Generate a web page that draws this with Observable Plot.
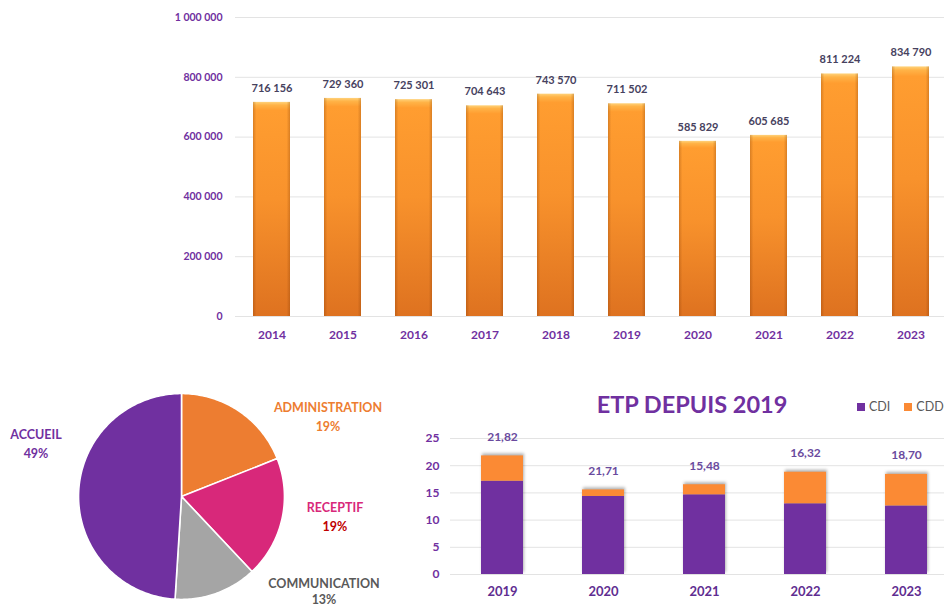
<!DOCTYPE html>
<html><head><meta charset="utf-8">
<script src="https://cdn.jsdelivr.net/npm/d3@7"></script>
<script src="https://cdn.jsdelivr.net/npm/@observablehq/plot@0.6"></script>
<style>
html,body{margin:0;padding:0;background:#fff;overflow:hidden}
#root{position:relative;width:944px;height:607px;font-family:Lato,"Open Sans",sans-serif}
.lbl{position:absolute;transform:translateX(-50%);text-align:center;font-weight:700;font-size:12.5px;line-height:19px;white-space:nowrap}
svg{overflow:visible}
</style></head><body><div id="root"></div>
<script>
// ---------- data ----------
const years = ["2014", "2015", "2016", "2017", "2018", "2019", "2020", "2021", "2022", "2023"];
const visitors = [716156, 729360, 725301, 704643, 743570, 711502, 585829, 605685, 811224, 834790];
const topTicks = [0, 200000, 400000, 600000, 800000, 1000000];

const pieNames = ["ADMINISTRATION", "RECEPTIF", "COMMUNICATION", "ACCUEIL"];
const pieShares = [19, 19, 13, 49];
const pieColors = ["#ed7d31", "#d8287a", "#a5a5a5", "#7030a0"];
const pieNameColors = ["#ed7d31", "#d8287a", "#595959", "#7030a0"];
const piePctColors = ["#ed7d31", "#c00000", "#595959", "#7030a0"];

const etpYears = ["2019", "2020", "2021", "2022", "2023"];
const cdi = [17.15, 14.35, 14.65, 13.0, 12.6];
const cdd = [4.65, 1.2, 1.85, 5.8, 5.8];
const etpLabels = ["21,82", "21,71", "15,48", "16,32", "18,70"];
const etpTicks = [0, 5, 10, 15, 20, 25];
const etpTypes = ["CDI", "CDD"];
const etpColors = ["#7030a0", "#fb8a34"];

// ---------- helpers ----------
const root = document.getElementById("root");
const fmt = d3.formatLocale({decimal: ",", thousands: " ", grouping: [3], currency: ["", "€"]}).format(",d");
function place(node, left, top) {
  node.style.position = "absolute"; node.style.left = left + "px"; node.style.top = top + "px";
  root.appendChild(node);
}
const FONT = "Lato, 'Open Sans', sans-serif";

// ---------- top chart ----------
const topData = years.map((y, i) => ({year: y, value: visitors[i]}));
const topDefs = () => {
  const s = d3.create("svg:defs");
  const g = s.append("linearGradient").attr("id", "gTop").attr("x1", 0).attr("y1", 0).attr("x2", 0).attr("y2", 1);
  [["0%", "#ffd27a"], ["1.5%", "#ffb347"], ["4%", "#ff9d30"], ["45%", "#f8922c"], ["100%", "#de7220"]]
    .forEach(([o, c]) => g.append("stop").attr("offset", o).attr("stop-color", c));
  const h = s.append("linearGradient").attr("id", "gTopH").attr("x1", 0).attr("y1", 0).attr("x2", 1).attr("y2", 0);
  [["0%", "rgba(120,50,0,0.28)"], ["9%", "rgba(120,50,0,0)"], ["91%", "rgba(120,50,0,0)"], ["100%", "rgba(120,50,0,0.28)"]]
    .forEach(([o, c]) => h.append("stop").attr("offset", o).attr("stop-color", c));
  return s.node();
};
const topChart = Plot.plot({
  width: 944, height: 345, marginTop: 17, marginBottom: 29, marginLeft: 235, marginRight: 0,
  style: {fontFamily: FONT, background: "transparent", overflow: "visible"},
  x: {type: "band", domain: years, range: [234.5, 946.5], paddingInner: 0.48, paddingOuter: 0.24, label: null},
  y: {domain: [0, 1000000], label: null},
  marks: [
    topDefs,
    Plot.ruleY(topTicks, {stroke: "#e3e3e3", strokeWidth: 1}),
    Plot.barY(topData, {x: "year", y: "value", fill: "url(#gTop)"}),
    Plot.barY(topData, {x: "year", y: "value", fill: "url(#gTopH)"}),
    Plot.text(topData, {x: "year", y: "value", text: d => fmt(d.value), dy: -14, fill: "#46415e", fontWeight: "bold", fontSize: 11}),
    Plot.axisY({ticks: topTicks, tickFormat: fmt, tickSize: 0, tickPadding: 13, fill: "#7030a0", fontWeight: "bold", fontSize: 10.5, label: null}),
    Plot.axisX({tickSize: 0, tickPadding: 14, fill: "#7030a0", fontWeight: "bold", fontSize: 12, label: null})
  ]
});
place(topChart, 0, 0);

// ---------- pie ----------
const total = d3.sum(pieShares);
let acc = 0;
const slices = pieNames.map((name, i) => {
  const a0 = acc / total * 2 * Math.PI; acc += pieShares[i];
  const a1 = acc / total * 2 * Math.PI;
  const n = Math.max(2, Math.ceil((a1 - a0) / (Math.PI / 180)));
  const pts = [{x: 0, y: 0}];
  for (let k = 0; k <= n; k++) { const a = a0 + (a1 - a0) * k / n; pts.push({x: Math.sin(a), y: Math.cos(a)}); }
  pts.push({x: 0, y: 0});
  return {name, color: pieColors[i], pts};
});
const pieChart = Plot.plot({
  width: 210, height: 210, margin: 0,
  style: {background: "transparent", overflow: "visible"},
  x: {domain: [-1.02, 1.02], axis: null},
  y: {domain: [-1.02, 1.02], axis: null},
  marks: slices.map(s => Plot.line(s.pts, {x: "x", y: "y", fill: s.color, stroke: "#fff", strokeWidth: 1.6, strokeLinejoin: "round"}))
});
place(pieChart, 76, 391);

const pieLabelPos = [[328, 398], [335, 498], [324, 576], [36, 425]];
pieNames.forEach((name, i) => {
  const d = document.createElement("div");
  d.className = "lbl";
  if (i === 2) d.style.lineHeight = "16px";
  d.innerHTML = `<div style="color:${pieNameColors[i]}">${name}</div><div style="color:${piePctColors[i]}">${pieShares[i]}%</div>`;
  d.style.left = pieLabelPos[i][0] + "px"; d.style.top = pieLabelPos[i][1] + "px";
  root.appendChild(d);
});

// ---------- ETP chart ----------
const etpData = [];
etpTypes.forEach(t => etpYears.forEach((y, i) => etpData.push({year: y, type: t, value: t === "CDI" ? cdi[i] : cdd[i]})));
const etpTotals = etpYears.map((y, i) => ({year: y, total: cdi[i] + cdd[i], label: etpLabels[i]}));
const etpChart = Plot.plot({
  width: 534, height: 227, marginTop: 58, marginBottom: 33, marginLeft: 40, marginRight: 0,
  style: {fontFamily: FONT, background: "transparent", overflow: "visible"},
  x: {type: "band", domain: etpYears, range: [41.5, 546.5], paddingInner: 0.58, paddingOuter: 0.29, label: null},
  y: {domain: [0, 25], label: null},
  color: {domain: etpTypes, range: etpColors},
  marks: [
    Plot.ruleY(etpTicks, {stroke: "#e3e3e3", strokeWidth: 1}),
    Plot.barY(etpData, {x: "year", y: "value", fill: "type", order: etpTypes, imageFilter: "drop-shadow(1.5px -1.5px 1.5px rgba(0,0,0,0.3))"}),
    Plot.text(etpTotals, {x: "year", y: "total", text: "label", dy: -19, fill: "#6a4a9e", fontWeight: "bold", fontSize: 12}),
    Plot.axisY({ticks: etpTicks, tickSize: 0, tickPadding: 11, fill: "#7030a0", fontWeight: "bold", fontSize: 12, label: null}),
    Plot.axisX({tickSize: 0, tickPadding: 12, fill: "#5f2d91", fontWeight: "bold", fontSize: 13, label: null})
  ]
});
place(etpChart, 410, 380);

// title + legend
const title = document.createElement("div");
title.textContent = "ETP DEPUIS 2019";
title.className = "lbl";
title.style.cssText += "font-size:23.5px;line-height:26px;color:#7030a0;left:692px;top:391px;";
root.appendChild(title);

const legend = document.createElement("div");
legend.style.cssText = "position:absolute;left:857px;top:399px;font-size:12.5px;color:#595959;display:flex;align-items:center;gap:4px;";
legend.innerHTML = etpTypes.map((t, i) =>
  `<span style="display:inline-block;width:8px;height:8px;background:${etpColors[i]};margin-left:${i ? 10 : 0}px"></span><span>${t}</span>`).join("");
root.appendChild(legend);
</script></body></html>
